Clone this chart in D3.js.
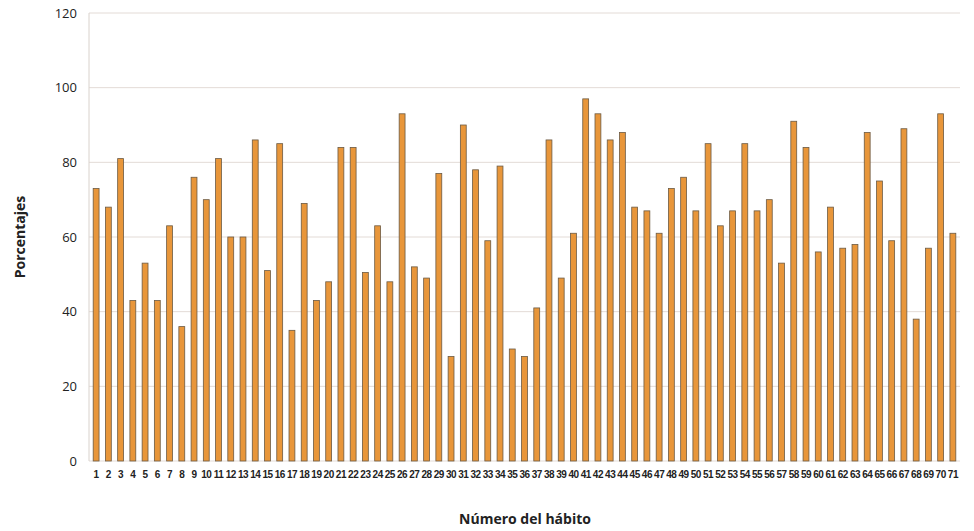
<!DOCTYPE html><html><head><meta charset="utf-8"><script src="https://cdn.jsdelivr.net/npm/d3@7"></script>
<style>body{margin:0;background:#fff}svg{font-family:"Open Sans",sans-serif}</style></head><body><svg width="974" height="531"></svg>
<script>
const categories = d3.range(1,72).map(String);
const values = [73,68,81,43,53,43,63,36,76,70,81,60,60,86,51,85,35,69,43,48,84,84,50.5,63,48,93,52,49,77,28,90,78,59,79,30,28,41,86,49,61,97,93,86,88,68,67,61,73,76,67,85,63,67,85,67,70,53,91,84,56,68,57,58,88,75,59,89,38,57,93,61];
const yTicks = [0,20,40,60,80,100,120];
const svg = d3.select("svg");
const x = d3.scaleBand().domain(categories).range([90,959]).paddingInner(0.52).paddingOuter(0.26);
const y = d3.scaleLinear().domain([0,120]).range([461,13]);
svg.append("g").selectAll("line").data(yTicks).join("line")
 .attr("x1",89).attr("x2",960).attr("y1",d=>y(d)).attr("y2",d=>y(d)).attr("stroke","#e3dbd6").attr("stroke-width",1);
svg.append("line").attr("x1",89).attr("x2",89).attr("y1",y(120)).attr("y2",y(0)).attr("stroke","#d9d2cc");
svg.append("g").selectAll("rect").data(values).join("rect")
 .attr("x",(d,i)=>x(categories[i])).attr("width",x.bandwidth())
 .attr("y",d=>y(d)).attr("height",d=>y(0)-y(d))
 .attr("fill","#e8963a").attr("stroke","#6b5a44").attr("stroke-width",0.8);
const ya = svg.append("g").attr("transform","translate(89,0)").call(d3.axisLeft(y).tickValues(yTicks).tickSize(0).tickPadding(12));
ya.select(".domain").remove();
ya.selectAll("text").attr("font-size",13).attr("fill","#222").attr("font-family","'Liberation Sans Narrow','Open Sans',sans-serif");
const xa = svg.append("g").attr("transform","translate(0,461)").call(d3.axisBottom(x).tickSize(0).tickPadding(10));
xa.select(".domain").remove();
xa.selectAll("text").attr("font-size",10).attr("font-weight","bold").attr("fill","#222").attr("font-family","'Liberation Sans Narrow',sans-serif")
 .attr("transform",function(){return "";}).style("letter-spacing","-0.5px");
svg.append("text").attr("transform","translate(25,237) rotate(-90)").attr("text-anchor","middle").attr("font-size",14).attr("font-weight","bold").attr("fill","#222").text("Porcentajes");
svg.append("text").attr("x",525).attr("y",524).attr("text-anchor","middle").attr("font-size",14).attr("font-weight","bold").attr("fill","#222").text("Número del hábito");
</script></body></html>
